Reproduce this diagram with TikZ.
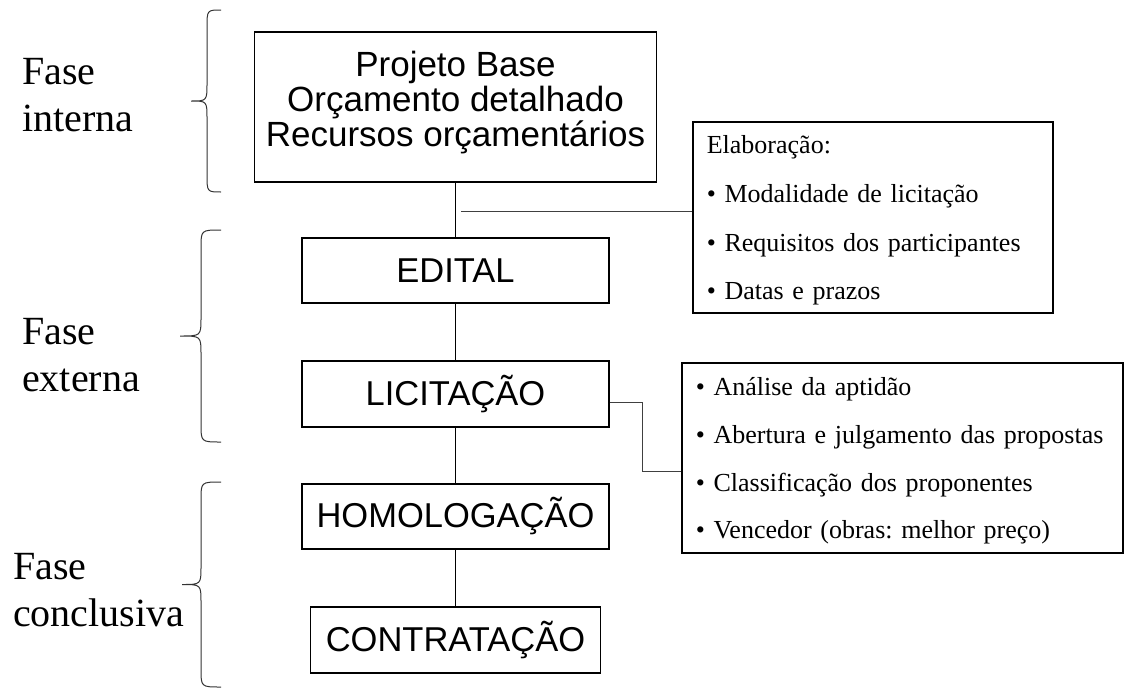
\documentclass[tikz,border=0pt]{standalone}
\usepackage{fontspec}
\setmainfont{Liberation Serif}
\setsansfont{Liberation Sans}

% chave: haste, ponta, topo, base
\newcommand\chave[4]{%
  \draw[chave] (221,#3) .. controls (#1,#3) .. (#1,{#3+18})
    -- (#1,{(#3+#4)/2-18}) .. controls (#1,{(#3+#4)/2}) .. (#2,{(#3+#4)/2})
    .. controls (#1,{(#3+#4)/2}) .. (#1,{(#3+#4)/2+18})
    -- (#1,{#4-18}) .. controls (#1,#4) .. (221,#4);}
% suportes invisiveis para a primeira e a ultima linha
\newcommand\topo[1]{\rule{0pt}{#1}}
\newcommand\fundo[1]{\rule[-#1]{0pt}{#1}}

\begin{document}
\begin{tikzpicture}[x=1pt, y=-1pt,
	etapa/.style={draw, line width=1.6pt, inner sep=0pt, font=\sffamily\fontsize{34.5}{34}\selectfont},
	lista/.style={draw, line width=1.6pt, align=left, inner xsep=14pt, inner ysep=0pt, anchor=north west},
	fase/.style={align=left, inner sep=0pt, anchor=north west, font=\fontsize{40}{47}\selectfont},
	tronco/.style={line width=1.6pt},
	ligacao/.style={line width=0.9pt, black!75},
	chave/.style={line width=1pt, black!80}]
	\useasboundingbox (0,0) rectangle (1126,688);

	% Fases
	\node[fase] (interna) at (22,58.5) {Fase\\interna};
	\node[fase] (externa) at (22,318.5) {Fase\\externa};
	\node[fase] (conclusiva) at (13,553.5) {Fase\\conclusiva};
	\chave{207}{191}{10}{192}
	\chave{201}{180}{230}{442}
	\chave{201}{182}{482}{687}

	% Etapas
	\node[etapa, minimum width=402, anchor=north, align=center, font=\sffamily\fontsize{35}{35}\selectfont] (base) at (455.5,31) {\topo{45pt}Projeto Base\\Orçamento detalhado\\Recursos orçamentários\fundo{35pt}};
	\node[etapa, minimum width=307, minimum height=65] (edital) at (455.5,270.5) {EDITAL};
	\node[etapa, minimum width=307, minimum height=66] (licit) at (455.5,394) {LICITAÇÃO};
	\node[etapa, minimum width=307, minimum height=65] (homol) at (455.5,516.5) {HOMOLOGAÇÃO};
	\node[etapa, minimum width=290, minimum height=66] (contr) at (455.5,640) {CONTRATAÇÃO};
	\foreach \a/\b in {base/edital, edital/licit, licit/homol, homol/contr}
		\draw[tronco] (\a.south) -- (\b.north);

	% Elaboração do edital
	\node[lista, text width=332, font=\fontsize{26}{48.7}\selectfont\frenchspacing] (elab) at (692,121) {\topo{32pt}Elaboração:\\\textbullet\ Modalidade de licitação\\\textbullet\ Requisitos dos participantes\\\textbullet\ Datas e prazos\fundo{13pt}};
	\coordinate (r1) at (461,211);
	\draw[ligacao] (r1) -- (r1 -| elab.west);

	% Licitação
	\node[lista, text width=413, font=\fontsize{26}{47.7}\selectfont\frenchspacing] (julg) at (681,362) {\topo{33pt}\textbullet\ Análise da aptidão\\\textbullet\ Abertura e julgamento das propostas\\\textbullet\ Classificação dos proponentes\\\textbullet\ Vencedor (obras: melhor preço)\fundo{14pt}};
	\coordinate (r2) at (642,471);
	\draw[ligacao] ([yshift=-8pt]licit.east) -| (r2) -- (r2 -| julg.west);
\end{tikzpicture}
\end{document}
